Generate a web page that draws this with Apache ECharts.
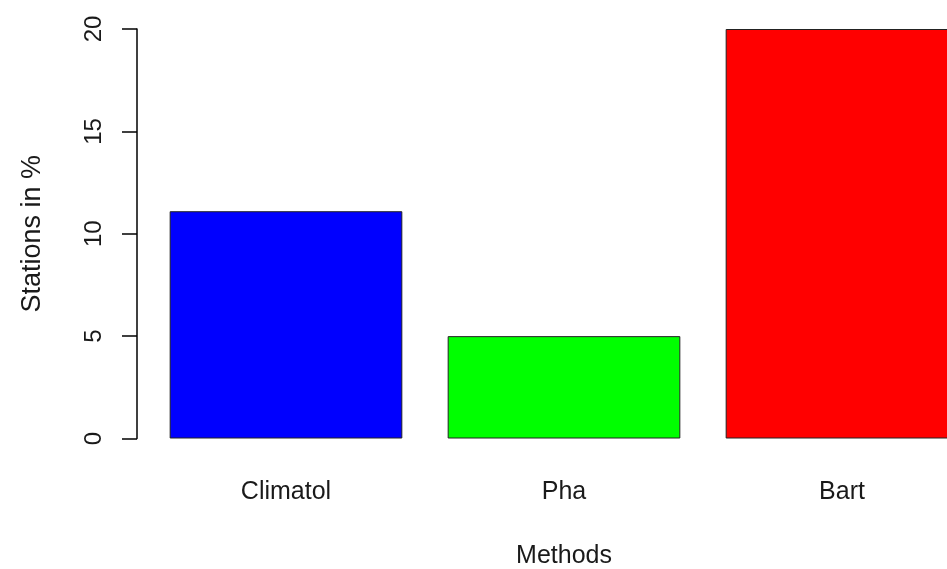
<!DOCTYPE html>
<html>
<head>
<meta charset="utf-8">
<script src="https://cdn.jsdelivr.net/npm/echarts@6/dist/echarts.min.js"></script>
<style>
  html, body { margin: 0; padding: 0; background: #ffffff; }
  #chart { width: 947px; height: 569px; }
</style>
</head>
<body>
<div id="chart"></div>
<script>
// Share of stations flagged by each homogenisation method
const methods = ['Climatol', 'Pha', 'Bart'];
const stationsPct = [11.1, 5, 20];
const barColors = ['#0000ff', '#00ff00', '#ff0000'];
const yTicks = [0, 5, 10, 15, 20];

const FONT = '"Liberation Sans", Arial, sans-serif';
const TEXT = '#1a1a1a';

const chart = echarts.init(document.getElementById('chart'), null, { renderer: 'canvas' });

chart.setOption({
  backgroundColor: '#ffffff',
  animation: false,
  // plot area is wider than the canvas, so the last bar runs off the right edge
  grid: {
    left: 147, width: 834, top: 29, height: 409.5,
    containLabel: false, outerBoundsMode: 'none'
  },
  xAxis: {
    type: 'category',
    data: methods,
    axisLine: { show: false },
    axisTick: { show: false },
    axisLabel: { color: TEXT, fontFamily: FONT, fontSize: 25, margin: 41 },
    name: 'Methods',
    nameLocation: 'middle',
    nameGap: 105,
    nameTextStyle: { color: TEXT, fontFamily: FONT, fontSize: 25 }
  },
  yAxis: {
    type: 'value',
    min: yTicks[0],
    max: yTicks[yTicks.length - 1],
    interval: yTicks[1] - yTicks[0],
    offset: 10,
    splitLine: { show: false },
    axisLine: { show: true, lineStyle: { color: '#000000', width: 1.5 } },
    axisTick: { show: true, length: 15, lineStyle: { color: '#000000', width: 1.5 } },
    axisLabel: {
      color: TEXT, fontFamily: FONT, fontSize: 24, rotate: 90, margin: 43,
      verticalAlign: 'middle', align: 'center'
    },
    name: 'Stations in %',
    nameLocation: 'middle',
    nameGap: 91,
    nameRotate: 90,
    nameTextStyle: { color: TEXT, fontFamily: FONT, fontSize: 27 }
  },
  series: [{
    type: 'bar',
    data: stationsPct.map((v, i) => ({
      value: v,
      itemStyle: { color: barColors[i] }
    })),
    barCategoryGap: '16.3%',
    itemStyle: { borderColor: '#222222', borderWidth: 1 }
  }]
});
</script>
</body>
</html>
